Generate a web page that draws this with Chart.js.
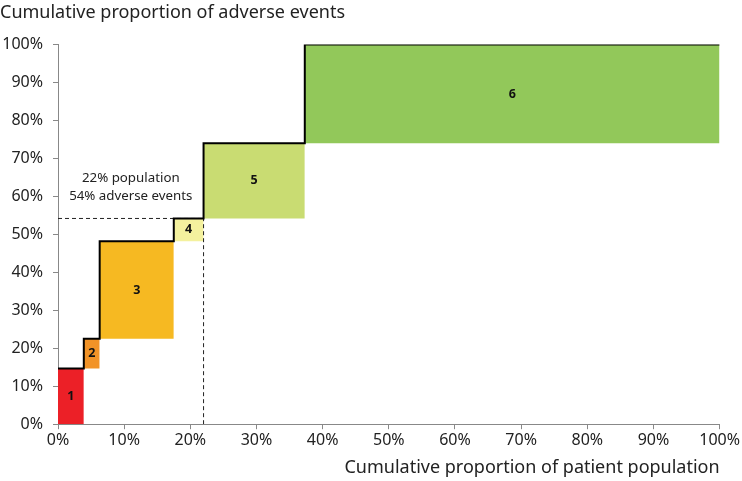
<!DOCTYPE html>
<html>
<head>
<meta charset="utf-8">
<script src="https://cdn.jsdelivr.net/npm/chart.js@4"></script>
<style>
  html, body { margin: 0; padding: 0; background: #fff; }
  #wrap { width: 742px; height: 481px; }
</style>
</head>
<body>
<div id="wrap"><canvas id="steps"></canvas></div>
<script>
// cumulative share of patients (x) and of adverse events (y), in %
const groups = ['1', '2', '3', '4', '5', '6'];
const popCum = [0, 3.9, 6.3, 17.5, 22, 37.3, 100];
const eventCum = [0, 14.7, 22.5, 48.2, 54.2, 74, 100];
const boxColors = ['#ec2027', '#f29327', '#f6b922', '#f4f19e', '#c9dc72', '#92c85a'];
const tickValues = [0, 10, 20, 30, 40, 50, 60, 70, 80, 90, 100];
const markIndex = 4; // 22% population / 54% adverse events
const markText = ['22% population', '54% adverse events'];

const font = "'Noto Sans', sans-serif";

const datasets = [];

// one filled segment per group, from previous cumulative level up to its own
groups.forEach((g, i) => {
    datasets.push({
        label: 'group ' + g,
        data: [{x: popCum[i], y: eventCum[i + 1]}, {x: popCum[i + 1], y: eventCum[i + 1]}],
        borderWidth: 0,
        borderColor: 'rgba(0,0,0,0)',
        backgroundColor: boxColors[i],
        fill: {value: eventCum[i]},
        pointRadius: 0,
        order: 3
    });
});

// black step line (horizontal first, then up)
const stepPts = [];
for (let i = 0; i < groups.length; i++) {
    stepPts.push({x: popCum[i], y: eventCum[i + 1]});
}
stepPts.push({x: popCum[popCum.length - 1], y: eventCum[eventCum.length - 1]});
datasets.push({
    label: 'cumulative',
    data: stepPts,
    stepped: 'before',
    borderColor: '#000',
    borderWidth: 2,
    pointRadius: 0,
    fill: false,
    order: 1
});

// dashed guide lines
datasets.push({
    label: 'guide h',
    data: [{x: 0, y: eventCum[markIndex]}, {x: popCum[markIndex], y: eventCum[markIndex]}],
    borderColor: '#222',
    borderWidth: 1,
    borderDash: [4, 3],
    pointRadius: 0,
    fill: false,
    order: 2
});
datasets.push({
    label: 'guide v',
    data: [{x: popCum[markIndex], y: 0}, {x: popCum[markIndex], y: eventCum[markIndex]}],
    borderColor: '#222',
    borderWidth: 1,
    borderDash: [4, 3],
    pointRadius: 0,
    fill: false,
    order: 2
});

// group numbers and the note
const labelsPlugin = {
    id: 'boxLabels',
    afterDatasetsDraw(chart) {
        const {ctx, scales: {x, y}} = chart;
        ctx.save();
        ctx.fillStyle = '#111';
        ctx.textAlign = 'center';
        ctx.textBaseline = 'middle';
        ctx.font = "bold 12.5px " + font;
        groups.forEach((g, i) => {
            const cx = x.getPixelForValue((popCum[i] + popCum[i + 1]) / 2);
            const cy = y.getPixelForValue((eventCum[i] + eventCum[i + 1]) / 2);
            ctx.fillText(g, cx, cy);
        });
        ctx.font = "13.3px " + font;
        ctx.fillStyle = '#222';
        ctx.fillText(markText[0], x.getPixelForValue(11), y.getPixelForValue(64.7));
        ctx.fillText(markText[1], x.getPixelForValue(11), y.getPixelForValue(60));
        ctx.restore();
    }
};

new Chart(document.getElementById('steps'), {
    type: 'line',
    data: {datasets: datasets},
    plugins: [labelsPlugin],
    options: {
        responsive: true,
        maintainAspectRatio: false,
        animation: false,
        layout: {padding: {left: 0, right: 0, top: 0, bottom: 2}},
        plugins: {
            legend: {display: false},
            tooltip: {enabled: false},
            title: {
                display: true,
                text: 'Cumulative proportion of adverse events',
                align: 'start',
                color: '#222',
                font: {family: font, size: 18, weight: 'normal'},
                padding: {top: 2, bottom: 21}
            }
        },
        scales: {
            x: {
                type: 'linear',
                min: 0,
                max: 100,
                afterBuildTicks: axis => { axis.ticks = tickValues.map(v => ({value: v})); },
                ticks: {
                    callback: v => v + '%',
                    color: '#222',
                    font: {family: font, size: 16},
                    maxRotation: 0,
                    padding: 2
                },
                grid: {drawOnChartArea: false, drawTicks: true, tickLength: 5, color: '#888'},
                border: {color: '#888'},
                title: {
                    display: true,
                    text: 'Cumulative proportion of patient population',
                    align: 'end',
                    color: '#222',
                    font: {family: font, size: 18},
                    padding: {top: 5, bottom: 0}
                }
            },
            y: {
                type: 'linear',
                min: 0,
                max: 100,
                afterBuildTicks: axis => { axis.ticks = tickValues.map(v => ({value: v})); },
                afterFit: scale => { scale.width = 58; },
                ticks: {
                    callback: v => v + '%',
                    color: '#222',
                    font: {family: font, size: 16},
                    padding: 10
                },
                grid: {drawOnChartArea: false, drawTicks: true, tickLength: 5, color: '#888'},
                border: {color: '#888'}
            }
        }
    }
});
</script>
</body>
</html>
